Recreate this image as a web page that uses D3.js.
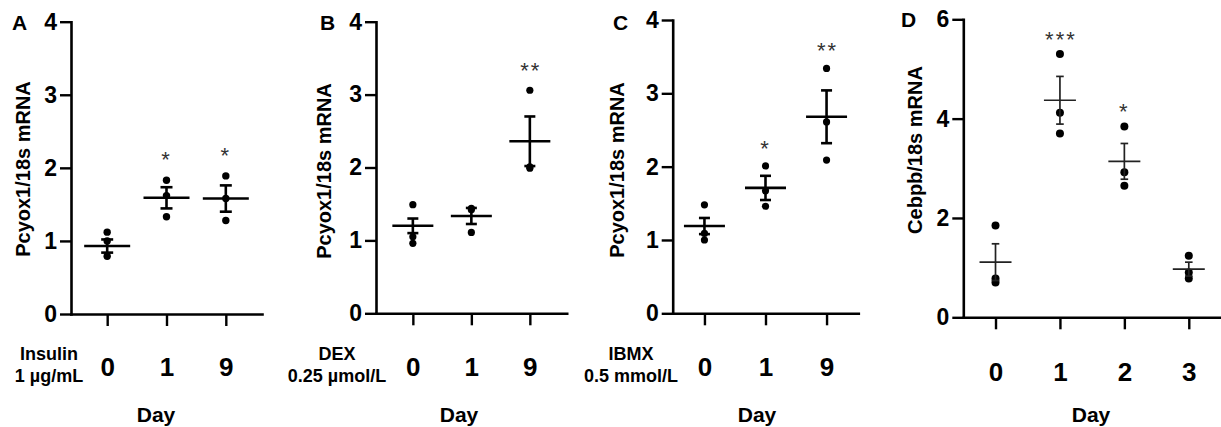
<!DOCTYPE html>
<html>
<head>
<meta charset="utf-8">
<script src="https://cdn.jsdelivr.net/npm/d3@7/dist/d3.min.js"></script>
<style>
  html, body { margin: 0; padding: 0; background: #fff; }
  svg { display: block; font-family: "Liberation Sans", Arial, sans-serif; }
</style>
</head>
<body>
<svg id="fig" width="1221" height="427"></svg>
<script>
// ---- data ----
const panelLetters = ["A", "B", "C", "D"];
const yTitles = ["Pcyox1/18s mRNA", "Pcyox1/18s mRNA", "Pcyox1/18s mRNA", "Cebpb/18s mRNA"];
const treatments = [["Insulin", "1 µg/mL"], ["DEX", "0.25 µmol/L"], ["IBMX", "0.5 mmol/L"], []];
const daysTreat = ["0", "1", "9"];
const daysCebpb = ["0", "1", "2", "3"];
const yTicksPcyox = [0, 1, 2, 3, 4];
const yTicksCebpb = [0, 2, 4, 6];

// Pcyox1 with insulin
const insulinPoints = [[1.12, 1.00, 0.79], [1.83, 1.62, 1.33], [1.89, 1.58, 1.28]];
const insulinMean = [0.93, 1.59, 1.58];
const insulinSem = [0.09, 0.145, 0.18];
const insulinSig = ["", "*", "*"];

// Pcyox1 with dexamethasone
const dexPoints = [[1.49, 1.05, 0.96], [1.44, 1.42, 1.11], [3.06, 2.01, 1.99]];
const dexMean = [1.20, 1.335, 2.36];
const dexSem = [0.10, 0.11, 0.34];
const dexSig = ["", "", "**"];

// Pcyox1 with IBMX
const ibmxPoints = [[1.48, 1.09, 1.00], [2.01, 1.67, 1.46], [3.34, 2.61, 2.09]];
const ibmxMean = [1.19, 1.71, 2.68];
const ibmxSem = [0.11, 0.165, 0.36];
const ibmxSig = ["", "*", "**"];

// Cebpb time course
const cebpbPoints = [[1.85, 0.78, 0.70], [5.30, 4.12, 3.70], [3.84, 2.92, 2.65], [1.24, 0.90, 0.78]];
const cebpbMean = [1.11, 4.37, 3.14, 0.97];
const cebpbSem = [0.37, 0.48, 0.36, 0.14];
const cebpbSig = ["", "***", "*", ""];

// ---- layout of the four panels ----
const panels = [
  { days: daysTreat, ticks: yTicksPcyox, pts: insulinPoints, mean: insulinMean, sem: insulinSem, sig: insulinSig,
    x0: 71, x1: 262, yTop: 21.7, yBot: 314, pad: 0.61, half: 23, cap: 6, sw: 2.6, col: "#000", r: 3.7, sigGap: 26,
    letterX: 12, letterY: 30, titleX: 23, titleY: 169, treatX: 49, dayX: 156, catBase: 376 },
  { days: daysTreat, ticks: yTicksPcyox, pts: dexPoints, mean: dexMean, sem: dexSem, sig: dexSig,
    x0: 376, x1: 566.7, yTop: 21.7, yBot: 313.3, pad: 0.63, half: 20.5, cap: 5.5, sw: 2.6, col: "#000", r: 3.6, sigGap: 25,
    letterX: 320, letterY: 30, titleX: 324, titleY: 171, treatX: 337, dayX: 459, catBase: 376 },
  { days: daysTreat, ticks: yTicksPcyox, pts: ibmxPoints, mean: ibmxMean, sem: ibmxSem, sig: ibmxSig,
    x0: 672.7, x1: 858.3, yTop: 20, yBot: 313.3, pad: 0.52, half: 20.5, cap: 5.5, sw: 2.6, col: "#000", r: 3.6, sigGap: 23,
    letterX: 613, letterY: 30, titleX: 617, titleY: 170, treatX: 631, dayX: 757, catBase: 376 },
  { days: daysCebpb, ticks: yTicksCebpb, pts: cebpbPoints, mean: cebpbMean, sem: cebpbSem, sig: cebpbSig,
    x0: 963.3, x1: 1221, yTop: 19.3, yBot: 317.3, pad: 0.5, half: 16, cap: 3.8, sw: 1.7, col: "#222", r: 4, sigGap: 20.5,
    letterX: 901, letterY: 27, titleX: 915, titleY: 150, treatX: 0, dayX: 1091, catBase: 381.5 }
];

const svg = d3.select("#fig");

panels.forEach((p, i) => {
  const g = svg.append("g");
  const x = d3.scalePoint().domain(p.days).range([p.x0, p.x1]).padding(p.pad);
  const y = d3.scaleLinear().domain([0, d3.max(p.ticks)]).range([p.yBot, p.yTop]);

  // y axis
  const ya = g.append("g").attr("transform", `translate(${p.x0},0)`)
    .call(d3.axisLeft(y).tickValues(p.ticks).tickFormat(d3.format("d"))
      .tickSize(11).tickSizeOuter(0).tickPadding(3));
  // x axis
  const xa = g.append("g").attr("transform", `translate(0,${p.yBot})`)
    .call(d3.axisBottom(x).tickSize(12).tickSizeOuter(0));

  [ya, xa].forEach(a => {
    a.select(".domain").attr("stroke", "#000").attr("stroke-width", 2.6).attr("stroke-linecap", "square");
    a.selectAll(".tick line").attr("stroke", "#000").attr("stroke-width", 2.4);
  });
  ya.selectAll(".tick text").attr("font-size", 23).attr("font-weight", "bold").attr("fill", "#000");
  xa.selectAll(".tick text").attr("font-size", 26).attr("font-weight", "bold").attr("fill", "#000")
    .attr("dy", null).attr("y", p.catBase - p.yBot);

  // panel letter
  g.append("text").attr("x", p.letterX).attr("y", p.letterY)
    .attr("font-size", 21).attr("font-weight", "bold").text(panelLetters[i]);

  // y title
  g.append("text")
    .attr("transform", `translate(${p.titleX},${p.titleY}) rotate(-90)`)
    .attr("text-anchor", "middle").attr("dy", "0.35em")
    .attr("font-size", 20).attr("font-weight", "bold").text(yTitles[i]);

  // treatment label
  treatments[i].forEach((t, k) => {
    g.append("text").attr("x", p.treatX).attr("y", 360 + k * 22)
      .attr("text-anchor", "middle").attr("font-size", 18).attr("font-weight", "bold").text(t);
  });

  // x title
  g.append("text").attr("x", p.dayX).attr("y", 422)
    .attr("text-anchor", "middle").attr("font-size", 21).attr("font-weight", "bold").text("Day");

  // individual points
  p.days.forEach((d, j) => {
    g.selectAll(null).data(p.pts[j]).enter().append("circle")
      .attr("cx", x(d)).attr("cy", v => y(v)).attr("r", p.r)
      .attr("fill", "#000");
  });

  // mean and SEM
  const grp = g.selectAll(".grp").data(p.days).enter().append("g")
    .attr("stroke", p.col).attr("stroke-width", p.sw).attr("fill", "none");
  grp.append("line")
    .attr("x1", d => x(d) - p.half).attr("x2", d => x(d) + p.half)
    .attr("y1", (d, j) => y(p.mean[j])).attr("y2", (d, j) => y(p.mean[j]));
  grp.append("line")
    .attr("x1", d => x(d)).attr("x2", d => x(d))
    .attr("y1", (d, j) => y(p.mean[j] + p.sem[j])).attr("y2", (d, j) => y(p.mean[j] - p.sem[j]));
  [1, -1].forEach(s => {
    grp.append("line")
      .attr("x1", d => x(d) - p.cap).attr("x2", d => x(d) + p.cap)
      .attr("y1", (d, j) => y(p.mean[j] + s * p.sem[j])).attr("y2", (d, j) => y(p.mean[j] + s * p.sem[j]));
  });

  // significance marks, centred a fixed gap above the highest point
  g.selectAll(".sig").data(p.days).enter().append("text")
    .attr("x", d => x(d)).attr("y", (d, j) => y(d3.max(p.pts[j])) - p.sigGap + 13)
    .attr("text-anchor", "middle").attr("font-size", 22).attr("fill", "#333")
    .attr("letter-spacing", 2).attr("dx", (d, j) => p.sig[j].length > 1 ? 1 : 0)
    .text((d, j) => p.sig[j]);
});
</script>
</body>
</html>
